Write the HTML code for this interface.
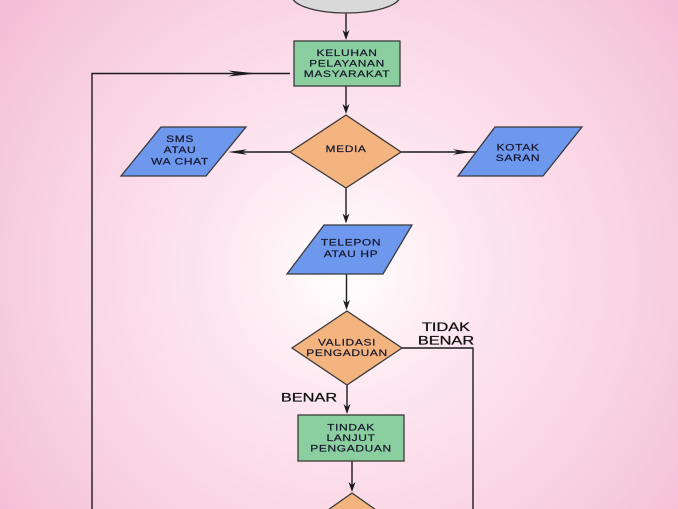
<!DOCTYPE html>
<html>
<head>
<meta charset="utf-8">
<style>
html,body{margin:0;padding:0;width:678px;height:509px;overflow:hidden;}
svg{display:block;}
.t{font-family:"Liberation Sans",sans-serif;font-size:9.6px;fill:#16162a;text-anchor:middle;stroke:#16162a;stroke-width:0.2px;letter-spacing:0.5px;}
.l{font-family:"Liberation Sans",sans-serif;font-size:11.5px;fill:#111;text-anchor:middle;stroke:#111;stroke-width:0.25px;}
</style>
</head>
<body>
<svg width="678" height="509" viewBox="0 0 678 509" xmlns="http://www.w3.org/2000/svg">
<defs>
<radialGradient id="bg" gradientUnits="userSpaceOnUse" cx="345" cy="270" r="430">
<stop offset="0" stop-color="#ffffff"/>
<stop offset="0.3" stop-color="#fde7f0"/>
<stop offset="0.7" stop-color="#f9d2e2"/>
<stop offset="1" stop-color="#f4bed6"/>
</radialGradient>
</defs>
<rect x="0" y="0" width="678" height="509" fill="url(#bg)"/>

<!-- connectors -->
<g stroke="#1c1c1c" stroke-width="1.4" fill="none">
<line x1="346" y1="13" x2="346" y2="36"/>
<line x1="346" y1="86" x2="346" y2="110"/>
<line x1="290" y1="152" x2="236" y2="152"/>
<line x1="401" y1="152" x2="476" y2="152"/>
<line x1="346" y1="188" x2="346" y2="219"/>
<line x1="346.5" y1="274" x2="346.5" y2="306"/>
<line x1="347" y1="385" x2="347" y2="410"/>
<line x1="352" y1="461" x2="352" y2="488"/>
<polyline points="402,348 473,348 473,509"/>
<polyline points="92,509 92,73.5 290,73.5"/>
</g>
<g fill="#1c1c1c">
<polygon points="346,40 342.5,30 346,33 349.5,30"/>
<polygon points="346,114 342.5,104 346,107 349.5,104"/>
<polygon points="346,223.5 342.5,213.5 346,216.5 349.5,213.5"/>
<polygon points="346.5,310 343,300 346.5,303 350,300"/>
<polygon points="347,414 343.5,404 347,407 350.5,404"/>
<polygon points="352,492 348.5,482 352,485 355.5,482"/>
<polygon points="258,73.5 228,70.5 236,73.5 228,76.5"/>
<polygon points="228,152 247,149.3 242,152 247,154.7"/>
<polygon points="472,152 453,149.3 458,152 453,154.7"/>
</g>

<!-- shapes -->
<g stroke="#3a3a3a" stroke-width="1.3">
<ellipse cx="346" cy="-4" rx="54" ry="17" fill="#d9d9d9"/>
<rect x="294" y="41" width="106" height="45" fill="#8bcfa1"/>
<polygon points="346,115 401,152 346,188 290,152" fill="#f4b47f"/>
<polygon points="161,127 246,127 206,176 121,176" fill="#6e97ee"/>
<polygon points="495,127 582,127 543,176 458,176" fill="#6e97ee"/>
<polygon points="324,225 412,225 383,274 287,274" fill="#6e97ee"/>
<polygon points="347,311 402,348 347,385 292,348" fill="#f4b47f"/>
<rect x="298" y="415" width="106" height="46" fill="#8bcfa1"/>
<polyline points="328,510 352,493 376,510" fill="#f4b47f"/>
</g>

<!-- node texts -->
<g transform="translate(347,0) scale(1.25,1)">
<text class="t" x="0" y="56">KELUHAN</text>
<text class="t" x="0" y="66.5">PELAYANAN</text>
<text class="t" x="0" y="77">MASYARAKAT</text>
</g>
<g transform="translate(346,0) scale(1.25,1)">
<text class="t" x="0" y="152">MEDIA</text>
</g>
<g transform="translate(180,0) scale(1.25,1)">
<text class="t" x="0" y="142">SMS</text>
<text class="t" x="0" y="153">ATAU</text>
<text class="t" x="0" y="164.5">WA CHAT</text>
</g>
<g transform="translate(518,0) scale(1.25,1)">
<text class="t" x="0" y="150.5">KOTAK</text>
<text class="t" x="0" y="161">SARAN</text>
</g>
<g transform="translate(351,0) scale(1.25,1)">
<text class="t" x="0" y="245.5">TELEPON</text>
<text class="t" x="0" y="257">ATAU HP</text>
</g>
<g transform="translate(347,0) scale(1.25,1)">
<text class="t" x="0" y="345.5">VALIDASI</text>
<text class="t" x="0" y="355.8">PENGADUAN</text>
</g>
<g transform="translate(351,0) scale(1.25,1)">
<text class="t" x="0" y="430.5">TINDAK</text>
<text class="t" x="0" y="441">LANJUT</text>
<text class="t" x="0" y="451.5">PENGADUAN</text>
</g>

<!-- labels -->
<g transform="translate(446,0) scale(1.42,1)">
<text class="l" x="0" y="331">TIDAK</text>
<text class="l" x="0" y="344.5">BENAR</text>
</g>
<g transform="translate(309,0) scale(1.42,1)">
<text class="l" x="0" y="401.5">BENAR</text>
</g>
</svg>
</body>
</html>
